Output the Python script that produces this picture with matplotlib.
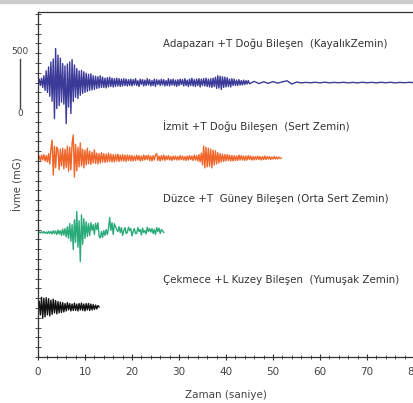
import numpy as np
import matplotlib.pyplot as plt
from matplotlib import transforms
from matplotlib.ticker import MultipleLocator

# acceleration records in mG
# each record is a list of segments: (start time [s], dt [s], samples)

adapazari_a = [  # 0 s .. 19.75 s, dt = 0.25
    0, 35, -30, 45, -50, 70, -80, 120, -100, 160,
    -140, 210, -190, 240, -367, 347, -265, 280, -235, 250,
    -200, 194, -220, 170, -418, 190, -250, 210, -316, 235,
    -194, 180, -150, 143, -163, 120, -130, 125, -110, 110,
    -100, 95, -90, 85, -80, 90, -75, 70, -70, 65,
    -60, 60, -55, 70, -50, 55, -50, 45, -55, 50,
    -45, 55, -40, 45, -45, 40, -40, 45, -35, 40,
    -40, 35, -35, 40, -30, 35, -35, 30, -30, 35,
]
adapazari_b = [  # 20 s .. 44.75 s, dt = 0.25
    -35, 30, -25, 40, -30, 20, -40, 35,
    -20, 30, -35, 25, -30, 40, -25, 30,
    -35, 20, -30, 35, -40, 30, -20, 25,
    -30, 35, -25, 30, -35, 20, -30, 40,
    -35, 30, -25, 35, -30, 25, -40, 30,
    -30, 35, -20, 30, -35, 40, -30, 25,
    -40, 35, -30, 45, -35, 30, -40, 35,
    -30, 40, -45, 35, -30, 40, -35, 45,
    -40, 35, -45, 40, -50, 45, -40, 55,
    -60, 70, -55, 65, -70, 60, -50, 55,
    -45, 50, -40, 35, -45, 40, -30, 35,
    -30, 25, -30, 30, -25, 20, -25, 25,
    -20, 20, -15, 20,
]
adapazari_c = [  # 45 s .. 80 s, dt = 1
    -12, 12, -10, 8, -8, 10, -6, 8, 18, -15,
    5, -3, 2, -2, 3, -3, 4, -3, 2, -2,
    3, -3, 2, -3, 3, -2, 2, -3, 3, -2,
    3, -3, 2, -2, 3, -2,
]

izmit_a = [  # 0 s .. 19.75 s, dt = 0.25
    0, 20, -25, 30, -20, 35, -30, 25, -40, 45,
    -60, 90, 184, -173, 120, -100, 110, 80, -120, 90,
    -80, 100, -110, 90, -95, 120, -135, 110, -120, 150,
    235, -194, 140, -130, 110, -90, 153, -80, 90, -100,
    80, -70, 100, -60, 70, -65, 60, -50, 85, -55,
    50, -60, 45, -50, 55, -40, 45, -45, 40, -40,
    50, -35, 40, -40, 35, -40, 35, -30, 40, -35,
    30, -30, 35, -30, 30, -35, 30, -25, 30, -30,
]
izmit_b = [  # 20 s .. 51.75 s, dt = 0.25
    25, -30, 20, -25, 30, -20, 25, -30,
    20, -25, 30, -20, 25, -15, 30, -25,
    20, -30, 25, -20, 30, 45, -25, 20,
    -30, 25, -20, 30, -25, 20, -15, 25,
    -20, 15, -25, 20, -15, 20, -20, 15,
    -20, 25, -15, 20, -20, 15, -25, 20,
    -20, 25, -15, 20, -25, 30, -20, 25,
    -30, 35, -40, 50, -70, 122, -100, 110,
    -90, 100, -85, 90, -100, 80, -70, 75,
    -60, 55, -50, 45, -40, 40, -35, 35,
    -30, 35, -25, 30, -30, 25, -30, 25,
    -25, 20, -25, 30, -20, 25, -20, 20,
    -25, 20, -20, 25, -15, 20, -20, 15,
    -20, 15, -15, 20, -15, 15, -20, 15,
    -15, 20, -15, 15, -10, 15, -15, 10,
    -10, 15, -10, 10, -10, 10, -5, 0,
]

duzce_a = [  # 0 s .. 14.75 s, dt = 0.25
    0, 5, -5, 8, -5, 10, -8, 5, -10, 12,
    -8, 10, -15, 20, -10, 15, -20, 25, -15, 20,
    -30, 35, -25, 40, -45, 60, -60, 92, -90, 80,
    -173, 130, -100, 214, -150, 120, -296, 180, -120, 140,
    -60, 110, -40, 90, -30, 100, 20, 80, -20, 95,
    30, 100, -40, -55, 10, -50, 20, -30, 30, -20,
]
duzce_b = [  # 15 s .. 26.75 s, dt = 0.25
    40, 153, 20, 100, -20, 90, 60, 30,
    10, 60, 0, 50, -30, 20, 50, -10,
    0, 55, 20, 40, -35, 10, 40, -10,
    -10, 50, 10, 30, -25, 45, 0, 20,
    -15, 55, 10, 40, 5, 40, -10, 30,
    -20, 50, 10, 45, -10, 30, 20, 0,
]

cekmece_a = [  # 0 s .. 13 s, dt = 0.25
    0, 60, -80, 100, -115, 90, -100, 95, -80, 85,
    -90, 70, -75, 80, -60, 65, -70, 55, -60, 50,
    -55, 45, -50, 35, -40, 45, -30, 35, -40, 30,
    -35, 40, -35, 30, -40, 35, -30, 40, -35, 30,
    -40, 35, -30, 35, -35, 30, -30, 25, -25, 20,
    -20, 15, 0,
]

labels = [
    "Adapazarı +T Doğu Bileşen  (KayalıkZemin)",
    "İzmit +T Doğu Bileşen  (Sert Zemin)",
    "Düzce +T  Güney Bileşen (Orta Sert Zemin)",
    "Çekmece +L Kuzey Bileşen  (Yumuşak Zemin)",
]
colors = ["#3b3a98", "#f0652a", "#2bab79", "#111111"]
baselines = [2800, 2030, 1270, 510]
label_y = [3194, 2357, 1612, 786]
LABEL_X = 26.6


def record(segments):
    t = np.concatenate([t0 + np.arange(len(s)) * dt for t0, dt, s in segments])
    a = np.concatenate([np.array(s, dtype=float) for _, _, s in segments])
    return t, a


if __name__ == "__main__":

    plt.rcParams['font.family'] = ['DejaVu Sans']

    records = [
        record([(0.0, 0.25, adapazari_a), (20.0, 0.25, adapazari_b), (45.0, 1.0, adapazari_c)]),
        record([(0.0, 0.25, izmit_a), (20.0, 0.25, izmit_b)]),
        record([(0.0, 0.25, duzce_a), (15.0, 0.25, duzce_b)]),
        record([(0.0, 0.25, cekmece_a)]),
    ]

    fig = plt.figure(figsize=(4.14, 4.03), dpi=100)
    ax = fig.add_axes([38 / 414, 46 / 403, 376 / 414, 345 / 403])

    for (t, a), base, c in zip(records, baselines, colors):
        ax.plot(t, a + base, color=c, lw=1.0)

    for text, y in zip(labels, label_y):
        ax.text(LABEL_X, y, text, fontsize=7.4, color="#333333", va="center")

    ax.set_xlim(0, 80)
    ax.set_ylim(0, 3520)
    ax.xaxis.set_major_locator(MultipleLocator(10))
    ax.xaxis.set_minor_locator(MultipleLocator(2))
    ax.yaxis.set_major_locator(MultipleLocator(100))
    ax.tick_params(axis="x", which="major", direction="inout", length=5, width=0.8,
                   labelsize=7.5, labelcolor="#444444", pad=5, color="#333333")
    ax.tick_params(axis="x", which="minor", direction="inout", length=3, width=0.6, color="#333333")
    ax.tick_params(axis="y", direction="inout", length=4, width=0.6, labelleft=False, color="#333333")
    for s in ax.spines.values():
        s.set_color("#333333")
        s.set_linewidth(0.9)

    ax.set_xlabel("Zaman (saniye)", fontsize=7.5, color="#444444", labelpad=9)
    ax.text(-0.053, 0.5, "İvme (mG)", transform=ax.transAxes, rotation=90,
            ha="center", va="center", fontsize=7.3, color="#444444")

    # 500 mG scale bar on the left
    trans = transforms.blended_transform_factory(ax.transAxes, ax.transData)
    ax.plot([-0.048, -0.048], [2540, 3040], transform=trans, color="#444444",
            lw=1.0, clip_on=False)
    ax.text(-0.048, 3115, "500", transform=trans, ha="center", va="center",
            fontsize=6.5, color="#444444")
    ax.text(-0.048, 2480, "0", transform=trans, ha="center", va="center",
            fontsize=6.5, color="#444444")

    # light border line along the top of the picture
    fig.add_artist(plt.Line2D([0, 1], [0.996, 0.996], color="#cccccc", lw=3))

    plt.savefig("out.png", dpi=100)
